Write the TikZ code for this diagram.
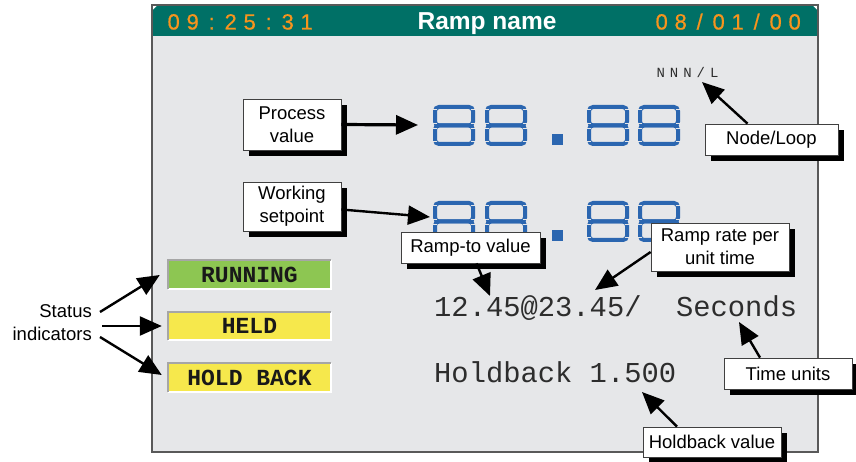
\documentclass[tikz,border=0pt]{standalone}
\usepackage{fontspec}
\setmainfont{Liberation Sans}
\newfontfamily\monofont{Liberation Mono}
\newfontfamily\hdrfont[FakeBold=0.6]{Liberation Sans}
\usetikzlibrary{arrows.meta,shadows,calc}
\definecolor{panelbg}{RGB}{230,231,233}
\definecolor{hdrteal}{RGB}{0,112,102}
\definecolor{hdrorange}{RGB}{247,148,29}
\definecolor{digitblue}{RGB}{43,102,176}
\definecolor{rungreen}{RGB}{141,198,82}
\definecolor{heldyellow}{RGB}{246,232,76}
\definecolor{monotext}{RGB}{45,45,45}
\newlength\pcw
\newcommand\pc[1]{\makebox[\pcw]{#1}}
\tikzset{
  lbl/.style={draw=black!75, line width=0.8pt, fill=white, align=center,
    font=\fontsize{18.5}{23}\selectfont, inner sep=0pt,
    drop shadow={shadow xshift=6pt, shadow yshift=-6pt, opacity=1, fill=black}},
  arr/.style={-{Triangle[length=22pt,width=19pt]}, line width=2.4pt},
  seg/.style={draw=digitblue, line width=4pt, rounded corners=4pt},
  gap/.style={draw=panelbg, line width=0.7pt},
  stat/.style={minimum width=163pt, inner sep=0pt, text=black!90,
    font=\monofont\bfseries\fontsize{23}{23}\selectfont},
  bevdark/.style={draw=black!35, line width=1.6pt},
  bevlight/.style={draw=white, line width=1.6pt},
}
\newcommand\segeight[2]{%
  \begin{scope}[shift={(#1,#2)}]
    \draw[seg] (2,2) rectangle (40,20.5);
    \draw[seg] (2,20.5) rectangle (40,39);
    \draw[gap] (0,4.8) -- (4.2,4.8);
    \draw[gap] (37.8,4.8) -- (42,4.8);
    \draw[gap] (0,36.2) -- (4.2,36.2);
    \draw[gap] (37.8,36.2) -- (42,36.2);
    \draw[gap] (0,18) -- (4.2,18);
    \draw[gap] (37.8,18) -- (42,18);
    \draw[gap] (0,23) -- (4.2,23);
    \draw[gap] (37.8,23) -- (42,23);
  \end{scope}}
\newcommand\readout[1]{%
  \segeight{433}{#1}\segeight{485}{#1}%
  \fill[digitblue] (552,#1+29) rectangle (563,#1+40);%
  \segeight{587}{#1}\segeight{638}{#1}}
\begin{document}
\begin{tikzpicture}[x=1pt,y=-1pt]
  \useasboundingbox (0,0) rectangle (856,462);
  \fill[white] (0,0) rectangle (856,462);
  % panel
  \fill[panelbg] (152,5) rectangle (818,452);
  \fill[white] (152,5) -- (158,5) -- (152,11) -- cycle;
  \fill[white] (818,5) -- (812,5) -- (818,11) -- cycle;
  \fill[hdrteal] (152,36) -- (152,11) -- (158,5) -- (812,5) -- (818,11) -- (818,36) -- cycle;
  \draw[draw=black!65, line width=1.2pt] (152,5) rectangle (818,452);
  % header texts
  \node[anchor=base west, inner sep=0pt, text=hdrorange, font=\hdrfont\fontsize{22}{22}\selectfont] (clock) at (164,29.5)
    {\setlength\pcw{19pt}\pc{0}\pc{9}\pc{:}\pc{2}\pc{5}\pc{:}\pc{3}\pc{1}};
  \node[anchor=base, inner sep=0pt, text=white, font=\bfseries\fontsize{24.5}{24.5}\selectfont] (title) at (487,30) {Ramp name};
  \node[anchor=base west, inner sep=0pt, text=hdrorange, font=\hdrfont\fontsize{22}{22}\selectfont] (date) at (652,29.5)
    {\setlength\pcw{19pt}\pc{0}\pc{8}\pc{/}\pc{0}\pc{1}\pc{/}\pc{0}\pc{0}};
  % node/loop text
  \node[anchor=base west, inner sep=0pt, text=monotext, font=\monofont\fontsize{14}{14}\selectfont] (nnn) at (653.8,78)
    {\setlength\pcw{13.4pt}\pc{N}\pc{N}\pc{N}\pc{/}\pc{L}};
  % digit readouts
  \readout{105}
  \readout{201}
  % monospaced lines
  \node[anchor=base west, inner sep=0pt, text=monotext, font=\monofont\fontsize{28.8}{28.8}\selectfont] (rampline) at (434,316)
    {12.45@23.45/\ \ Seconds};
  \node[anchor=base west, inner sep=0pt, text=monotext, font=\monofont\fontsize{28.8}{28.8}\selectfont] (hbline) at (434,382)
    {Holdback 1.500};
  % status indicators
  \node[stat, fill=rungreen, minimum height=29pt] (run) at (249.5,274.5) {RUNNING};
  \node[stat, fill=heldyellow, minimum height=28pt] (held) at (249.5,326) {HELD};
  \node[stat, fill=heldyellow, minimum height=29pt] (hb) at (249.5,377.5) {HOLD BACK};
  \foreach \b in {run,held,hb}{
    \draw[bevlight] (\b.south west) -- (\b.south east) -- (\b.north east);
    \draw[bevdark] (\b.south west) -- (\b.north west) -- (\b.north east);
  }
  \node[anchor=east, inner sep=0pt, align=right, font=\fontsize{18.5}{23}\selectfont] (si) at (92,323) {Status\\indicators};
  % labels
  \node[lbl, minimum width=98pt, minimum height=51pt] (pv) at (292,124.5) {Process\\value};
  \node[lbl, minimum width=98pt, minimum height=49pt] (ws) at (292,206.5) {Working\\setpoint};
  \node[lbl, minimum width=139pt, minimum height=31pt] (rt) at (470.5,247.5) {Ramp-to value};
  \node[lbl, minimum width=138pt, minimum height=48pt] (rr) at (720,247) {Ramp rate per\\unit time};
  \node[lbl, minimum width=133pt, minimum height=31pt] (nl) at (771.5,139.5) {Node/Loop};
  \node[lbl, minimum width=128pt, minimum height=31pt] (tu) at (788,373.5) {Time units};
  \node[lbl, minimum width=138pt, minimum height=30pt] (hv) at (712,442) {Holdback value};
  % arrow targets
  \coordinate (pvtip) at (418,125);
  \coordinate (wstip) at (430,217);
  \coordinate (rttip) at (490,296);
  \coordinate (rrtip) at (595,290);
  \coordinate (nltip) at (702,82);
  \coordinate (tutip) at (739,322);
  \coordinate (hvtip) at (642,392);
  % arrows
  \draw[arr, line width=3.2pt] (pv.east) -- (pvtip);
  \draw[arr] ($(ws.east)+(0,3)$) -- (wstip);
  \draw[arr] ($(rt.south)+(6,0)$) -- (rttip);
  \draw[arr] ($(rr.west)+(0,5)$) -- (rrtip);
  \draw[arr] ($(nl.north)+(-24,0)$) -- (nltip);
  \draw[arr] ($(tu.north)+(-28,0)$) -- (tutip);
  \draw[arr] ($(hv.north)+(-35,0)$) -- (hvtip);
  \draw[arr] ($(si.east)+(8,-11)$) -- ($(run.west)+(-8,0.5)$);
  \draw[arr] ($(si.east)+(10,3)$) -- ($(held.west)+(-6,0)$);
  \draw[arr] ($(si.east)+(8,14)$) -- ($(hb.west)+(-6,-2.5)$);
\end{tikzpicture}
\end{document}
